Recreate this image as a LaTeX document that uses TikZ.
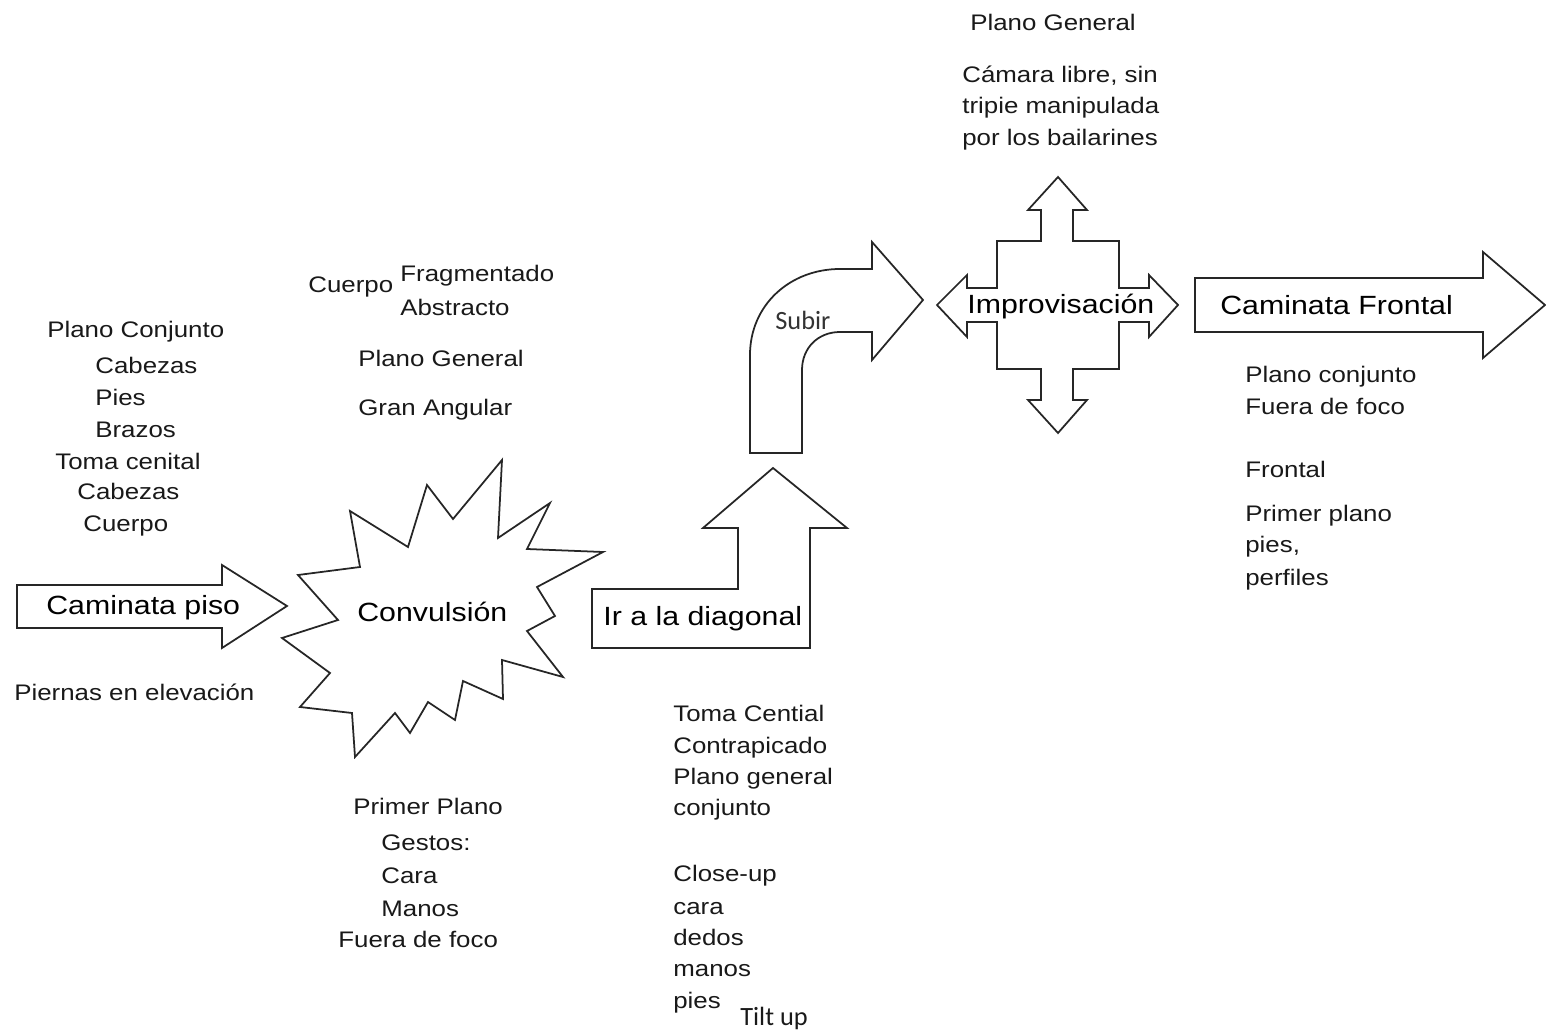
\documentclass[tikz,border=0pt]{standalone}
\usepackage{fontspec}
\setmainfont{Liberation Sans}[FakeStretch=1.15]
\newfontfamily\subirfont{Carlito}

\tikzset{
	flecha/.style = {draw = black!85, line width = 1pt, fill = white, line join = miter},
	rotulo/.style = {font = \fontsize{15}{18}\selectfont, inner sep = 0pt, anchor = base west},
	nota/.style = {font = \fontsize{12.8}{15}\selectfont, inner sep = 0pt, anchor = base west, text = black!90}
}

\begin{document}
\begin{tikzpicture}[x = 0.02cm, y = -0.02cm]

	\useasboundingbox (0, 0) rectangle (1546, 1030);

	% Arrows

	\draw [flecha] (17, 585) -- (222, 585) -- (222, 565) -- (287, 606) -- (222, 648) -- (222, 628) -- (17, 628) -- cycle;

	\draw [flecha] (350, 511) -- (408, 547) -- (427, 485) -- (453, 519) -- (502, 460) -- (498, 538) -- (550, 503) -- (527, 549) -- (603, 552) -- (537, 587) -- (555, 616) -- (527, 631) -- (563, 677) -- (502, 660) -- (503, 699) -- (463, 681) -- (455, 720) -- (428, 702) -- (410, 733) -- (395, 713) -- (355, 757) -- (352, 713) -- (300, 707) -- (330, 673) -- (282, 638) -- (338, 620) -- (298, 575) -- (360, 567) -- cycle;

	\draw [flecha] (592, 648) -- (592, 589) -- (738, 589) -- (738, 528) -- (703, 528) -- (773, 468) -- (847, 528) -- (810, 528) -- (810, 648) -- cycle;

	\draw [flecha] (750, 453) -- (750, 355) .. controls (750, 305) and (790, 269) .. (840, 269) -- (872, 269) -- (872, 242) -- (923, 300) -- (872, 360) -- (872, 332) -- (840, 332) .. controls (818, 332) and (802, 348) .. (802, 370) -- (802, 453) -- cycle;

	\draw [flecha] (1058, 177) -- (1087, 210) -- (1073, 210) -- (1073, 241) -- (1119, 241) -- (1119, 288) -- (1149, 288) -- (1149, 275) -- (1178, 305) -- (1149, 337) -- (1149, 322) -- (1119, 322) -- (1119, 369) -- (1073, 369) -- (1073, 400) -- (1087, 400) -- (1058, 433) -- (1028, 400) -- (1041, 400) -- (1041, 369) -- (997, 369) -- (997, 322) -- (967, 322) -- (967, 337) -- (937, 305) -- (967, 275) -- (967, 288) -- (997, 288) -- (997, 241) -- (1041, 241) -- (1041, 210) -- (1028, 210) -- cycle;

	\draw [flecha] (1195, 278) -- (1483, 278) -- (1483, 252) -- (1545, 305) -- (1483, 358) -- (1483, 332) -- (1195, 332) -- cycle;

	% Arrow labels

	\node [rotulo] (piso) at (46, 615) {Caminata piso};
	\node [rotulo] (convulsion) at (357, 622) {Convulsión};
	\node [rotulo] (diagonal) at (603, 625) {Ir a la diagonal};
	\node [rotulo, font = \subirfont\fontsize{15}{18}\selectfont, text = black!80] (subir) at (775, 330) {Subir};
	\node [rotulo] (improvisacion) at (967, 314) {Improvisación};
	\node [rotulo] (frontal) at (1220, 315) {Caminata Frontal};

	% Notes

	\foreach \name/\txt/\x/\y in {izqa/Plano Conjunto/47/338, izqb/Cabezas/95/374, izqc/Pies/95/406, izqd/Brazos/95/438, izqe/Toma cenital/55/470, izqf/Cabezas/77/500, izqg/Cuerpo/83/532, piernas/Piernas en elevación/14/700}
		\node [nota] (\name) at (\x, \y) {\txt};

	\foreach \name/\txt/\x/\y in {cuerpo/Cuerpo/308/293, fragm/Fragmentado/400/282, abstr/Abstracto/400/316, general/Plano General/358/367, angular/Gran Angular/358/416}
		\node [nota] (\name) at (\x, \y) {\txt};

	\foreach \name/\txt/\x/\y in {prim/Primer Plano/353/814, gestos/Gestos:/381/850, cara/Cara/381/883, manos/Manos/381/916, foco/Fuera de foco/338/947}
		\node [nota] (\name) at (\x, \y) {\txt};

	\foreach \name/\txt/\y in {diaga/Toma Cential/721, diagb/Contrapicado/753, diagc/Plano general/784, diagd/conjunto/815, diage/Close-up/881, diagf/cara/914, diagg/dedos/945, diagh/manos/976, diagi/pies/1008}
		\node [nota] (\name) at (673, \y) {\txt};

	\node [nota, font = \subirfont\fontsize{15}{18}\selectfont] (tilt) at (740, 1025) {Tilt up};

	\foreach \name/\txt/\x/\y in {arra/Plano General/970/31, arrb/{Cámara libre, sin}/962/83, arrc/tripie manipulada/962/114, arrd/por los bailarines/962/146}
		\node [nota] (\name) at (\x, \y) {\txt};

	\foreach \name/\txt/\y in {dera/Plano conjunto/383, derb/Fuera de foco/415, derc/Frontal/478, derd/Primer plano/521, dere/{pies,}/553, derf/perfiles/585}
		\node [nota] (\name) at (1245, \y) {\txt};

\end{tikzpicture}
\end{document}
